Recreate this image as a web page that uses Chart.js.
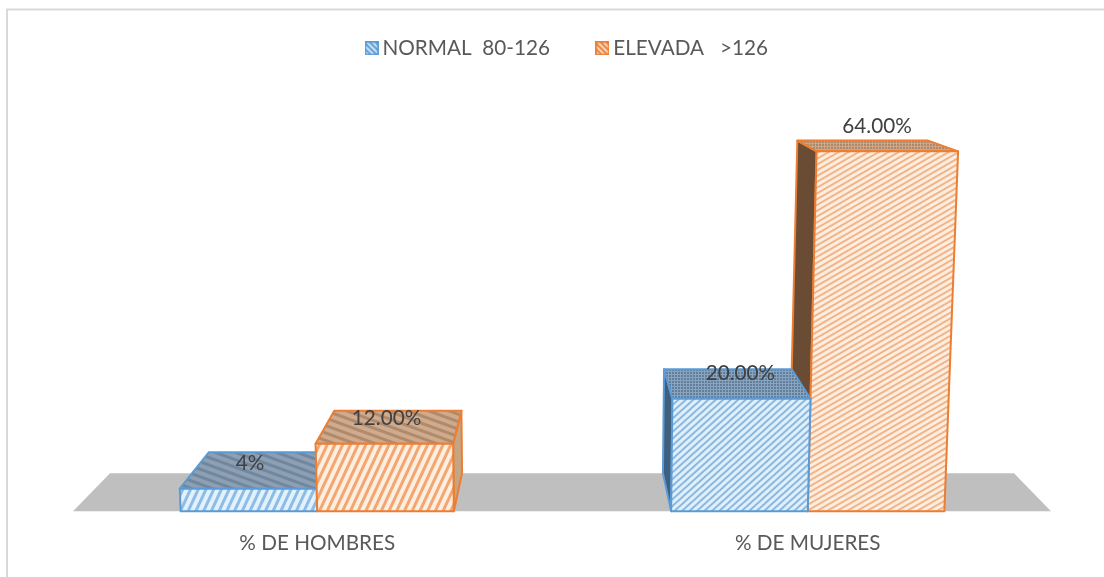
<!DOCTYPE html>
<html>
<head>
<meta charset="utf-8">
<script src="https://cdn.jsdelivr.net/npm/chart.js@4/dist/chart.umd.js"></script>
<style>
    html, body { margin: 0; padding: 0; background: #fff; }
    #wrap { position: relative; width: 1104px; height: 577px; }
</style>
</head>
<body>
<div id="wrap"><canvas id="chart" width="1104" height="577"></canvas></div>
<script>
const categories = ['% DE HOMBRES', '% DE MUJERES'];
const normalName = 'NORMAL  80-126';
const elevadaName = 'ELEVADA   >126';
const normalValues = [4, 20];
const elevadaValues = [12, 64];
const normalLabels = ['4%', '20.00%'];
const elevadaLabels = ['12.00%', '64.00%'];

// fake 3D camera, all faces are projected from the bar elements
const DEPTH = 0.0757;
const FLARE = 0.0001;
const VANISH_ABOVE_BASE = 502;

function stripes(bg, line, period, width, angle) {
    const tile = document.createElement('canvas');
    tile.width = period;
    tile.height = period;
    const c = tile.getContext('2d');
    c.fillStyle = bg;
    c.fillRect(0, 0, period, period);
    c.fillStyle = line;
    c.fillRect(0, 0, period, width);
    const pattern = c.createPattern(tile, 'repeat');
    pattern.setTransform(new DOMMatrix().rotate(angle));
    return pattern;
}

function dots(bg, dot, period) {
    const tile = document.createElement('canvas');
    tile.width = period;
    tile.height = period;
    const c = tile.getContext('2d');
    c.fillStyle = bg;
    c.fillRect(0, 0, period, period);
    c.fillStyle = dot;
    c.fillRect(0, 0, 2, 2);
    return c.createPattern(tile, 'repeat');
}

function swatch(bg, line, border) {
    const box = document.createElement('canvas');
    box.width = 14;
    box.height = 14;
    const c = box.getContext('2d');
    c.fillStyle = bg;
    c.fillRect(0, 0, 14, 14);
    c.fillStyle = stripes(bg, line, 4, 2, 45);
    c.fillRect(1, 1, 12, 12);
    c.strokeStyle = border;
    c.lineWidth = 1.5;
    c.strokeRect(0.75, 0.75, 12.5, 12.5);
    return box;
}

const blueLine = '#5b9bd5';
const orangeLine = '#ed7d31';

const faces = [
    {   // blue
        line: blueLine,
        front: [stripes('#e3f1fc', '#8dbce6', 7, 3, -65), stripes('#dff0fc', '#8db8de', 5, 2, -42)],
        top: [stripes('#8d9fb2', '#70879e', 7, 3, 20), dots('#8ba4bd', '#5f7f9f', 3)],
        side: ['#8d9fb2', '#3f5f7f']
    },
    {   // orange
        line: orangeLine,
        front: [stripes('#fdeee2', '#f3a66f', 7, 3, -65), stripes('#fdeee2', '#f3b488', 5, 2, -30)],
        top: [stripes('#cfaa8c', '#b08a6c', 7, 3, 20), dots('#d0a684', '#a88a70', 3)],
        side: ['#c4a584', '#6a4c34']
    }
];

function polygon(ctx, pts, fill, stroke) {
    ctx.beginPath();
    pts.forEach((p, i) => i ? ctx.lineTo(p[0], p[1]) : ctx.moveTo(p[0], p[1]));
    ctx.closePath();
    ctx.fillStyle = fill;
    ctx.fill();
    ctx.lineWidth = 2;
    ctx.lineJoin = 'round';
    ctx.strokeStyle = stroke;
    ctx.stroke();
}

const boxes3d = {
    id: 'boxes3d',
    afterLayout(chart) {
        // legend sits a little right of the plot centre
        chart.legend.left += 7;
        chart.legend.right += 7;
    },
    beforeDatasetsDraw(chart) {
        const ctx = chart.ctx;
        const { left, right } = chart.chartArea;
        const base = chart.scales.y.getPixelForValue(0);
        const cx = (left + right) / 2;
        const vy = base - VANISH_ABOVE_BASE;
        const back = (x, y) => [x + (cx - x) * DEPTH, y + (vy - y) * DEPTH];
        // chart frame
        ctx.strokeStyle = '#d9d9d9';
        ctx.lineWidth = 2;
        ctx.beginPath();
        ctx.moveTo(7, chart.height);
        ctx.lineTo(7, 9.5);
        ctx.lineTo(chart.width, 9.5);
        ctx.stroke();
        // floor
        ctx.beginPath();
        const fl = left + 1, fr = right - 2;
        [[fl, base], back(fl, base), back(fr, base), [fr, base]].forEach((p, i) => i ? ctx.lineTo(p[0], p[1]) : ctx.moveTo(p[0], p[1]));
        ctx.closePath();
        ctx.fillStyle = '#bfbfbf';
        ctx.fill();
    },
    afterDatasetsDraw(chart) {
        const ctx = chart.ctx;
        const { left, right } = chart.chartArea;
        const base = chart.scales.y.getPixelForValue(0);
        const cx = (left + right) / 2;
        const vy = base - VANISH_ABOVE_BASE;
        const back = (p) => [p[0] + (cx - p[0]) * DEPTH, p[1] + (vy - p[1]) * DEPTH];

        const list = [];
        chart.data.datasets.forEach((ds, d) => {
            chart.getDatasetMeta(d).data.forEach((bar, i) => {
                const xl = bar.x - bar.width / 2, xr = bar.x + bar.width / 2;
                const f = 1 + FLARE * (base - bar.y);
                const fbl = [xl, base], fbr = [xr, base];
                const ftl = [cx + (xl - cx) * f, bar.y], ftr = [cx + (xr - cx) * f, bar.y];
                list.push({ d, i, bar, fbl, fbr, ftl, ftr, dist: Math.abs(bar.x - cx) });
            });
        });
        list.sort((a, b) => b.dist - a.dist);

        list.forEach(b => {
            const s = faces[b.d];
            const inner = b.bar.x > cx ? [b.ftl, b.fbl] : [b.ftr, b.fbr];
            polygon(ctx, [inner[0], back(inner[0]), back(inner[1]), inner[1]], s.side[b.i], s.line);
            polygon(ctx, [b.ftl, back(b.ftl), back(b.ftr), b.ftr], s.top[b.i], s.line);
        });
        list.forEach(b => {
            const s = faces[b.d];
            polygon(ctx, [b.fbl, b.ftl, b.ftr, b.fbr], s.front[b.i], s.line);
        });

        // value labels
        ctx.font = '20.7px Lato';
        ctx.fillStyle = '#404040';
        ctx.textAlign = 'center';
        ctx.textBaseline = 'middle';
        list.forEach(b => {
            const text = chart.data.datasets[b.d].valueLabels[b.i];
            ctx.fillText(text, b.bar.x + 1, b.bar.y - 25);
        });
    }
};

new Chart(document.getElementById('chart').getContext('2d'), {
    type: 'bar',
    data: {
        labels: categories,
        datasets: [
            { label: normalName, data: normalValues, valueLabels: normalLabels, backgroundColor: 'transparent' },
            { label: elevadaName, data: elevadaValues, valueLabels: elevadaLabels, backgroundColor: 'transparent' }
        ]
    },
    plugins: [boxes3d],
    options: {
        responsive: false,
        animation: false,
        layout: { padding: { top: -14, left: 72, right: 51, bottom: 1 } },
        datasets: { bar: { categoryPercentage: 0.557, barPercentage: 1 } },
        scales: {
            x: {
                grid: { display: false, drawTicks: false },
                border: { display: false },
                ticks: { color: '#595959', font: { family: 'Lato', size: 20.7 }, padding: 20 }
            },
            y: { display: false, min: 0, max: 78.7 }
        },
        plugins: {
            tooltip: { enabled: false },
            legend: {
                position: 'top',
                labels: {
                    color: '#595959',
                    font: { family: 'Lato', size: 20.7 },
                    padding: 52,
                    usePointStyle: true,
                    pointStyleWidth: 1,
                    generateLabels() {
                        return [
                            { text: normalName, pointStyle: swatch('#d6e8f7', blueLine, blueLine), fontColor: '#595959', datasetIndex: 0 },
                            { text: elevadaName, pointStyle: swatch('#fbe0cd', orangeLine, orangeLine), fontColor: '#595959', datasetIndex: 1 }
                        ];
                    }
                }
            }
        }
    }
});
</script>
</body>
</html>
